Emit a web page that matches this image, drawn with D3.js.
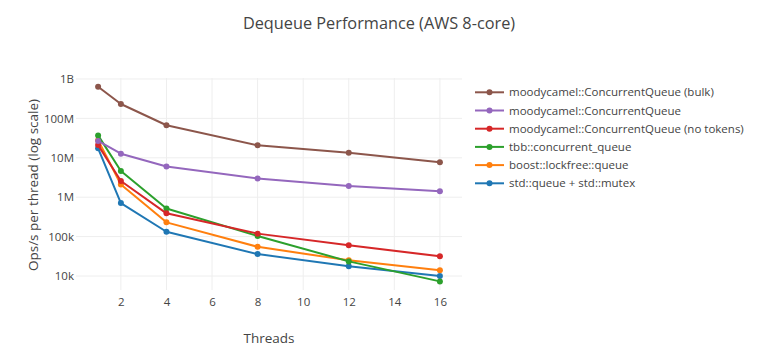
<!DOCTYPE html>
<html><head><meta charset="utf-8">
<script src="https://cdn.jsdelivr.net/npm/d3@7"></script>
<style>
body{margin:0;background:#fff;}
text{font-family:"Open Sans",sans-serif;fill:#444;}
</style></head>
<body><svg id="c" width="782" height="361"></svg>
<script>
const threads = [1, 2, 4, 8, 12, 16];
const seriesNames = [
  "std::queue + std::mutex",
  "boost::lockfree::queue",
  "tbb::concurrent_queue",
  "moodycamel::ConcurrentQueue (no tokens)",
  "moodycamel::ConcurrentQueue",
  "moodycamel::ConcurrentQueue (bulk)"
];
const stdMutex = [17.4e6, 710e3, 133e3, 36e3, 17.8e3, 10e3];
const boostLockfree = [28e6, 2.1e6, 230e3, 55e3, 25e3, 14e3];
const tbbQueue = [37e6, 4.6e6, 515e3, 104e3, 23.5e3, 7.3e3];
const mcNoTokens = [21e6, 2.57e6, 390e3, 119e3, 60e3, 31.6e3];
const mcQueue = [26.7e6, 12.7e6, 6.0e6, 3.0e6, 1.92e6, 1.41e6];
const mcBulk = [638e6, 232e6, 67e6, 20.8e6, 13.5e6, 7.7e6];
const seriesValues = [stdMutex, boostLockfree, tbbQueue, mcNoTokens, mcQueue, mcBulk];
const colors = ["#1f77b4", "#ff7f0e", "#2ca02c", "#d62728", "#9467bd", "#8c564b"];
const xTicks = [2, 4, 6, 8, 10, 12, 14, 16];
const yTicks = [1e4, 1e5, 1e6, 1e7, 1e8, 1e9];
const yTickLabels = ["10k", "100k", "1M", "10M", "100M", "1B"];

const svg = d3.select("#c");
const L = 76, R = 462, T = 78, B = 290;
const x = d3.scaleLinear().domain([0.03, 16.97]).range([L, R]);
const y = d3.scaleLog().domain([Math.pow(10, 3.645), Math.pow(10, 9.025)]).range([B, T]);

// grid
svg.append("g").selectAll("line").data(xTicks).join("line")
  .attr("x1", d => x(d)).attr("x2", d => x(d)).attr("y1", T).attr("y2", B)
  .attr("stroke", "#eee").attr("stroke-width", 1);
svg.append("g").selectAll("line").data(yTicks).join("line")
  .attr("x1", L).attr("x2", R).attr("y1", d => y(d)).attr("y2", d => y(d))
  .attr("stroke", "#eee").attr("stroke-width", 1);

// axes via d3 axis
const xAxis = d3.axisBottom(x).tickValues(xTicks).tickSize(0).tickPadding(8);
const gx = svg.append("g").attr("transform", `translate(0,${B})`).call(xAxis);
gx.select(".domain").remove();
gx.selectAll("text").style("font-size", "11.5px").attr("fill", "#444").attr("dy", "0.71em").attr("y", 8);

const yAxis = d3.axisLeft(y).tickValues(yTicks).tickFormat((d, i) => yTickLabels[i]).tickSize(0).tickPadding(2);
const gy = svg.append("g").attr("transform", `translate(${L},0)`).call(yAxis);
gy.select(".domain").remove();
gy.selectAll("text").style("font-size", "11.5px").attr("fill", "#444");

// lines
const line = d3.line().x((d, i) => x(threads[i])).y(d => y(d));
seriesValues.forEach((vals, si) => {
  const g = svg.append("g");
  g.append("path").datum(vals).attr("d", line).attr("fill", "none")
    .attr("stroke", colors[si]).attr("stroke-width", 2).attr("stroke-linejoin", "round");
  g.selectAll("circle").data(vals).join("circle")
    .attr("cx", (d, i) => x(threads[i])).attr("cy", d => y(d)).attr("r", 3)
    .attr("fill", colors[si]);
});

// titles
svg.append("text").attr("x", 379).attr("y", 29).attr("text-anchor", "middle")
  .style("font-size", "16.3px").text("Dequeue Performance (AWS 8-core)");
svg.append("text").attr("x", 269).attr("y", 343).attr("text-anchor", "middle")
  .style("font-size", "13.5px").text("Threads");
svg.append("text").attr("transform", "translate(38,185) rotate(-90)").attr("text-anchor", "middle")
  .style("font-size", "13.5px").text("Ops/s per thread (log scale)");

// legend (reversed order)
const order = [5, 4, 3, 2, 1, 0];
const lg = svg.append("g");
order.forEach((si, k) => {
  const ly = 92.3 + k * 18.2;
  lg.append("line").attr("x1", 475).attr("x2", 504).attr("y1", ly).attr("y2", ly)
    .attr("stroke", colors[si]).attr("stroke-width", 2);
  lg.append("circle").attr("cx", 489.5).attr("cy", ly).attr("r", 3).attr("fill", colors[si]);
  lg.append("text").attr("x", 509).attr("y", ly).attr("dy", "0.35em")
    .style("font-size", "11.5px").text(seriesNames[si]);
});
</script></body></html>
